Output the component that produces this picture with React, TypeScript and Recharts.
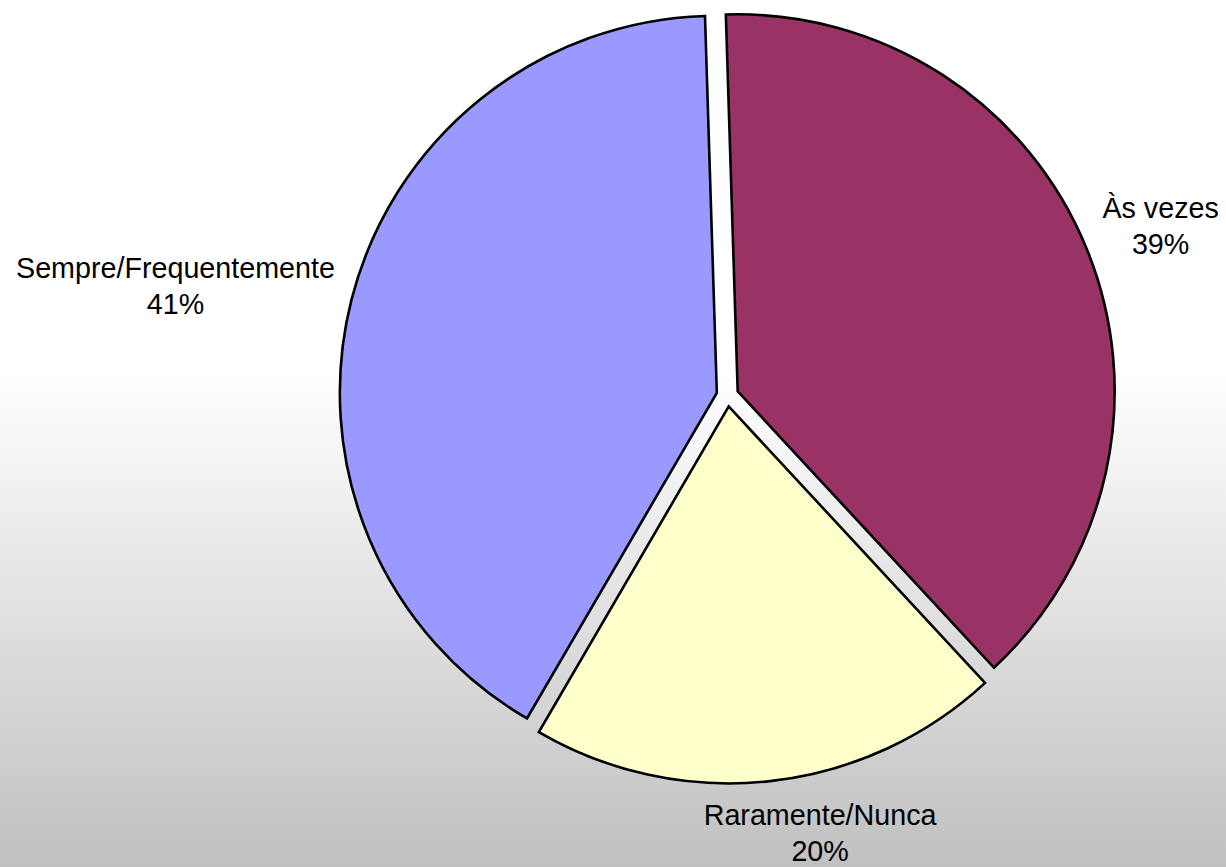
import React from 'react';
import { PieChart, Pie, Cell } from 'recharts';

// Data
const categories = ['Às vezes', 'Raramente/Nunca', 'Sempre/Frequentemente'];
const shares = [38.6, 20.3, 41.1];
const sliceColors = ['#993366', '#FFFFCC', '#9999FF'];

const data = categories.map((name, i) => ({ name, value: shares[i] }));

const W = 1226;
const H = 867;
const CX = 727.5;
const CY = 395.5;
const R = 377;
const EXPLODE = 11;
const START = 91.8;
const FONT = 28.7;
const LINE = 36;
const FONT_FAMILY = '"Liberation Sans", Arial, sans-serif';
const RAD = Math.PI / 180;

const total = shares.reduce((a, b) => a + b, 0);
const midAngles = shares.map((v, i) => {
  const before = shares.slice(0, i).reduce((a, b) => a + b, 0);
  return START - ((before + v / 2) / total) * 360;
});

let ctx: CanvasRenderingContext2D | null = null;
const measure = (s: string) => {
  if (!ctx) {
    ctx = document.createElement('canvas').getContext('2d');
  }
  if (!ctx) return s.length * FONT * 0.55;
  ctx.font = `${FONT}px ${FONT_FAMILY}`;
  return ctx.measureText(s).width;
};

const renderLabel = (props: any) => {
  const { midAngle, name, percent } = props;
  const lines = [name, `${Math.round(percent * 100)}%`];
  const w = Math.max(...lines.map(measure));
  const h = LINE * 2;
  const cos = Math.cos(midAngle * RAD);
  const sin = Math.sin(midAngle * RAD);
  const px = CX + (R + 33) * cos;
  const py = CY - (R + 33) * sin;
  let bx = px + (cos * w) / 2;
  let by = py - (sin * h) / 2;
  // keep the label inside the chart area, like Excel does
  const lastBaseline = by - 8 + LINE;
  if (lastBaseline > H - 6) {
    const shift = lastBaseline - (H - 6);
    by -= shift;
    bx += shift * 6;
  }
  return (
    <text
      x={bx}
      y={by - 8}
      textAnchor="middle"
      fill="#000"
      style={{ fontSize: FONT, fontFamily: FONT_FAMILY }}
    >
      <tspan x={bx} y={by - 8}>{lines[0]}</tspan>
      <tspan x={bx} y={by - 8 + LINE}>{lines[1]}</tspan>
    </text>
  );
};

const App: React.FC = () => {
  return (
    <div
      style={{
        position: 'absolute',
        left: 0,
        top: 0,
        width: W,
        height: H,
        background: 'linear-gradient(to bottom, #ffffff 0%, #ffffff 43%, #c0c0c0 100%)',
      }}
    >
      <PieChart width={W} height={H} margin={{ top: 0, right: 0, bottom: 0, left: 0 }}>
        {/* one pie per slice so each can be pulled out along its own middle */}
        {midAngles.map((mid, k) => (
          <Pie
            key={`slice-${k}`}
            data={data}
            dataKey="value"
            nameKey="name"
            cx={CX + EXPLODE * Math.cos(mid * RAD)}
            cy={CY - EXPLODE * Math.sin(mid * RAD)}
            outerRadius={R}
            startAngle={START}
            endAngle={START - 360}
            isAnimationActive={false}
            labelLine={false}
          >
            {data.map((d, i) => (
              <Cell
                key={d.name}
                fill={i === k ? sliceColors[i] : 'none'}
                stroke={i === k ? '#000' : 'none'}
                strokeWidth={2.6}
              />
            ))}
          </Pie>
        ))}
        {/* labels */}
        <Pie
          data={data}
          dataKey="value"
          nameKey="name"
          cx={CX}
          cy={CY}
          outerRadius={R}
          startAngle={START}
          endAngle={START - 360}
          isAnimationActive={false}
          label={renderLabel}
          labelLine={false}
          fill="none"
          stroke="none"
        >
          {data.map((d) => (
            <Cell key={d.name} fill="none" stroke="none" />
          ))}
        </Pie>
      </PieChart>
    </div>
  );
};

export default App;
